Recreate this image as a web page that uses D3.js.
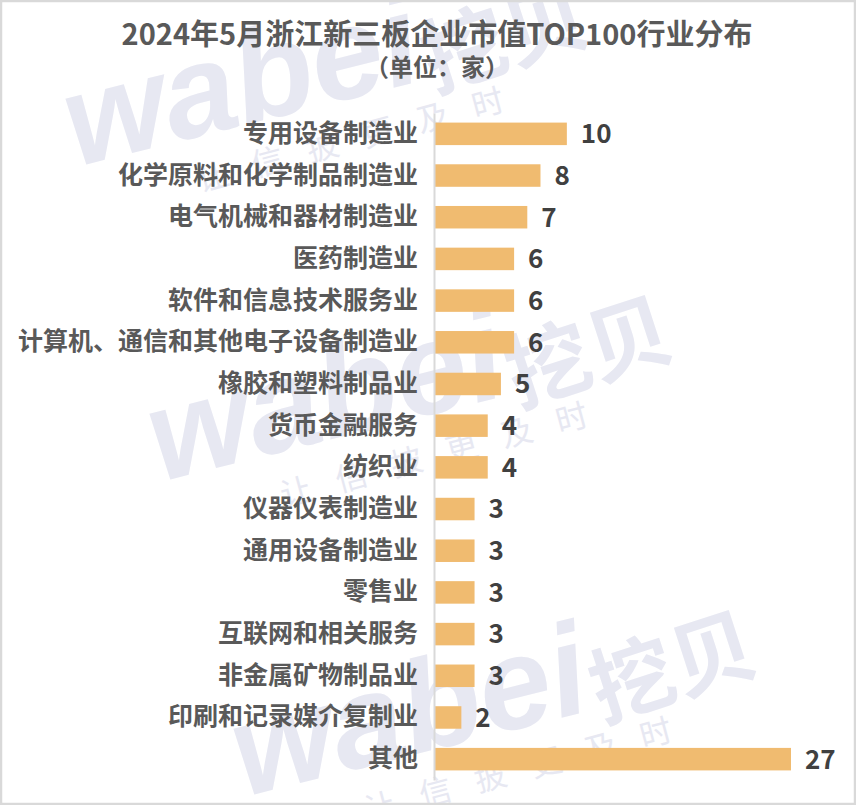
<!DOCTYPE html>
<html>
<head>
<meta charset="utf-8">
<script src="https://cdn.jsdelivr.net/npm/d3@7/dist/d3.min.js"></script>
<style>
html,body{margin:0;padding:0;background:#fff;}
svg{display:block;}
</style>
</head>
<body>
<script>
const categories = ["专用设备制造业","化学原料和化学制品制造业","电气机械和器材制造业","医药制造业","软件和信息技术服务业","计算机、通信和其他电子设备制造业","橡胶和塑料制品业","货币金融服务","纺织业","仪器仪表制造业","通用设备制造业","零售业","互联网和相关服务","非金属矿物制品业","印刷和记录媒介复制业","其他"];
const values = [10,8,7,6,6,6,5,4,4,3,3,3,3,3,2,27];
const title = "2024年5月浙江新三板企业市值TOP100行业分布";
const subtitle = "（单位：家）";
const watermarkMain = "wabei";
const watermarkCn = "挖贝";
const watermarkSlogan = "让信披更及时";

const W = 856, H = 805;
const FONT = "'Noto Sans CJK SC','Microsoft YaHei',sans-serif";
const svg = d3.select("body").append("svg").attr("width", W).attr("height", H);

svg.append("rect").attr("x",0).attr("y",0).attr("width",W).attr("height",H).attr("fill","#fff");

// watermark (faint, repeated diagonally)
const WM = "#E7E8F2";
const wm = svg.append("g").attr("pointer-events","none");
[-1,0,1].forEach(k => {
  const ox = 84*k, oy = 315*k;
  wm.append("text")
    .attr("transform", `translate(${160+ox},${482+oy}) rotate(-14)`)
    .attr("font-family","'Liberation Sans', Arial, sans-serif").attr("font-weight","bold").attr("font-style","italic")
    .attr("font-size",130).attr("fill",WM).text(watermarkMain);
  wm.append("text")
    .attr("transform", `translate(${518+ox},${407+oy}) rotate(-18)`)
    .attr("font-family",FONT).attr("font-weight","bold")
    .attr("font-size",84).attr("fill",WM).text(watermarkCn);
  wm.append("text")
    .attr("transform", `translate(${284+ox},${507+oy}) rotate(-15)`)
    .attr("font-family",FONT).attr("font-size",32).attr("letter-spacing",25)
    .attr("fill",WM).text(watermarkSlogan);
});

const y = d3.scaleBand().domain(categories).range([113, 780]).paddingInner(0.46).paddingOuter(0.23);
const x = d3.scaleLinear().domain([0, 27]).range([435, 791]);

svg.append("g").selectAll("rect").data(values).join("rect")
  .attr("x", x(0))
  .attr("y", (d,i) => y(categories[i]))
  .attr("width", d => x(d) - x(0))
  .attr("height", y.bandwidth())
  .attr("fill", "#F0BB70");

const axis = svg.append("g").attr("transform", `translate(434,0)`)
  .call(d3.axisLeft(y).tickSize(0).tickSizeOuter(0).tickPadding(16));
axis.select(".domain").attr("stroke","#D9D9D9").attr("stroke-width",2);
axis.selectAll("text").attr("font-family",FONT).attr("font-size",25).attr("font-weight","bold").attr("fill","#595959");

svg.append("g").selectAll("text").data(values).join("text")
  .attr("x", d => x(d) + 14)
  .attr("y", (d,i) => y(categories[i]) + y.bandwidth()/2)
  .attr("dy","0.36em")
  .attr("font-family",FONT).attr("font-size",26).attr("font-weight","bold").attr("fill","#404040")
  .text(d => d);

svg.append("text").attr("x",437).attr("y",45).attr("text-anchor","middle")
  .attr("font-family",FONT).attr("font-size",29).attr("font-weight","bold").attr("fill","#595959").text(title);
svg.append("text").attr("x",437).attr("y",76).attr("text-anchor","middle")
  .attr("font-family",FONT).attr("font-size",24).attr("font-weight","bold").attr("fill","#595959").text(subtitle);

svg.append("rect").attr("x",1).attr("y",1).attr("width",W-2).attr("height",H-2)
  .attr("fill","none").attr("stroke","#D9D9D9").attr("stroke-width",2.5);
</script>
</body>
</html>
